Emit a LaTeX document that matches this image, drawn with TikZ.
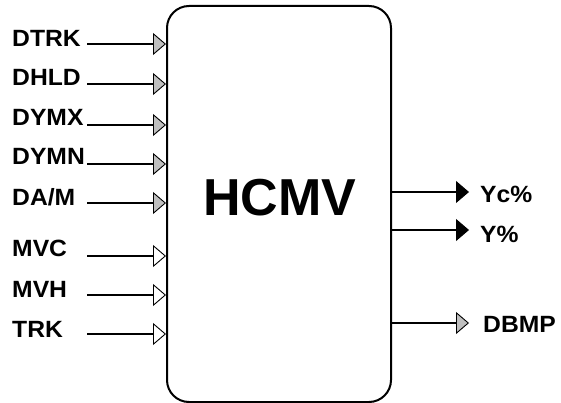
\documentclass[tikz,border=0pt]{standalone}
\usepackage{fontspec}
\setmainfont{Liberation Sans}
\usetikzlibrary{arrows.meta}
\newcommand{\wideb}[1]{\scalebox{1.05}[1]{#1}}
\tikzset{
  lbl/.style={font=\fontsize{23.5}{24}\selectfont\bfseries, inner sep=0pt, anchor=base west},
  grayin/.style={line width=1.6pt, -{Triangle[length=13pt,width=22pt,fill=black!25,line width=0.9pt]}},
  whitein/.style={line width=1.6pt, -{Triangle[length=13pt,width=22pt,fill=white,line width=0.9pt]}},
  blackout/.style={line width=1.6pt, -{Triangle[length=13pt,width=22pt,fill=black,line width=0.9pt]}},
  blk/.style={draw, line width=2pt, rounded corners=22pt, minimum width=224pt, minimum height=396pt, inner sep=0pt}
}
\begin{document}
\begin{tikzpicture}[x=1pt,y=-1pt]
\useasboundingbox (0,0) rectangle (561,403);
\node[blk] (box) at (279,204) {};
\node[font=\fontsize{52}{52}\selectfont\bfseries] (title) at (280,198) {HCMV};
% inputs
\foreach \name/\txt/\ly/\ay/\sty in {a/DTRK/47/44/grayin, b/DHLD/86/84/grayin, c/DYMX/126/125/grayin, d/DYMN/165/164/grayin, e/DA\slash M/205/203/grayin, f/MVC/256/256/whitein, g/MVH/297/295/whitein, h/TRK/337/334/whitein}{
  \node[lbl] (l\name) at (12,\ly) {\wideb{\txt}};
  \coordinate (s\name) at (87,\ay);
  \draw[\sty] (s\name) -- (s\name -| box.west);
}
% outputs
\foreach \name/\txt/\y/\by/\sty/\lx in {p/Yc\%/192/202/blackout/480, q/Y\%/230/242/blackout/480, r/DBMP/323/332/grayin/483}{
  \coordinate (t\name) at (469,\y);
  \draw[\sty] (box.east |- t\name) -- (t\name);
  \node[lbl] (o\name) at (\lx,\by) {\wideb{\txt}};
}
\end{tikzpicture}
\end{document}
